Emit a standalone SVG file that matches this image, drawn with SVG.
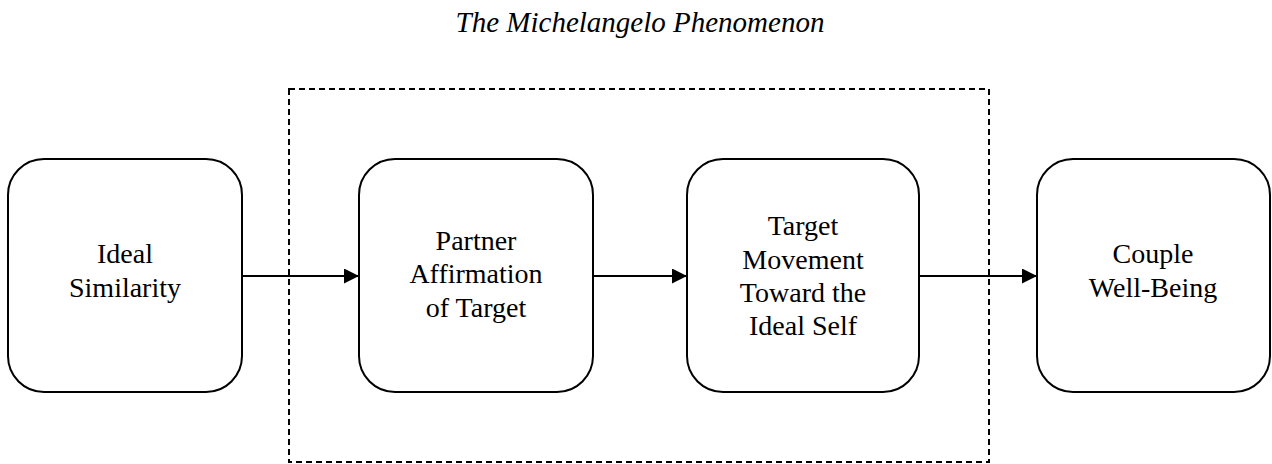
<svg xmlns="http://www.w3.org/2000/svg" width="1272" height="464" viewBox="0 0 1272 464">
<style>
.box{fill:#fff;stroke:#000;stroke-width:2}
.conn{stroke:#000;stroke-width:2;fill:none;marker-end:url(#arr)}
.dash{fill:none;stroke:#000;stroke-width:2;stroke-dasharray:6 4}
</style>
<defs>
<marker id="arr" markerWidth="15" markerHeight="15" refX="15" refY="7.5" orient="auto" markerUnits="userSpaceOnUse">
<path d="M0,0 L15,7.5 L0,15 Z" fill="#000"/>
</marker>
</defs>
<rect width="1272" height="464" fill="#fff"/>
<text x="640" y="32" font-family="Liberation Serif, Times New Roman, serif" font-size="29" font-style="italic" text-anchor="middle" fill="#000">The Michelangelo Phenomenon</text>
<g id="group-box">
<rect class="dash" x="289" y="89" width="700" height="373"/>
</g>
<g id="connectors">
<line class="conn" x1="242" y1="276" x2="359" y2="276"/>
<line class="conn" x1="593" y1="276" x2="687" y2="276"/>
<line class="conn" x1="919" y1="276" x2="1037" y2="276"/>
</g>
<g font-family="Liberation Serif, Times New Roman, serif" font-size="28" text-anchor="middle" fill="#000">
<g id="node-ideal-similarity">
<rect class="box" x="8" y="159" width="234" height="233" rx="36" ry="36"/>
<text x="125" y="263">Ideal</text>
<text x="125" y="297">Similarity</text>
</g>
<g id="node-partner-affirmation">
<rect class="box" x="359" y="159" width="234" height="233" rx="36" ry="36"/>
<text x="476" y="250">Partner</text>
<text x="476" y="283">Affirmation</text>
<text x="476" y="317">of Target</text>
</g>
<g id="node-target-movement">
<rect class="box" x="687" y="159" width="232" height="233" rx="36" ry="36"/>
<text x="803" y="235">Target</text>
<text x="803" y="269">Movement</text>
<text x="803" y="302">Toward the</text>
<text x="803" y="335">Ideal Self</text>
</g>
<g id="node-couple-well-being">
<rect class="box" x="1037" y="159" width="233" height="233" rx="36" ry="36"/>
<text x="1153" y="263">Couple</text>
<text x="1153" y="297">Well-Being</text>
</g>
</g>
</svg>
